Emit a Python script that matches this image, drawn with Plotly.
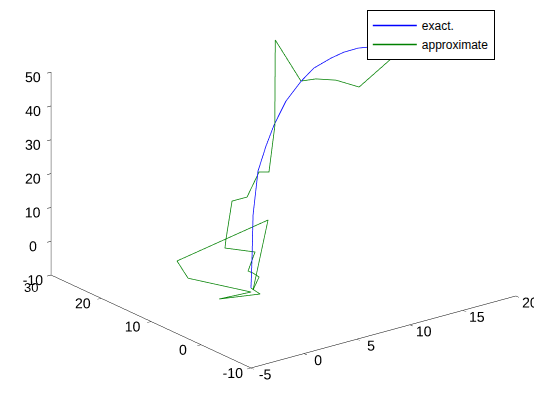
import plotly.graph_objects as go

# exact trajectory
exact_x = [0.04, 0.05, 0.42, 1.58, 3.1, 4.74, 7.45, 10.25, 12.26, 14.2, 15.5, 16.7, 17.3, 17.8, 17.75]
exact_y = [0.69, 0.50, 1.08, 2.55, 4.17, 6.05, 9.4, 12.3, 14.0, 14.7, 14.9, 14.6, 13.97, 12.35, 9.84]
exact_z = [2, 11, 23, 34, 39, 42.5, 45, 46.5, 47.5, 48.3, 48.8, 49.2, 49.4, 49.5, 49.5]

# approximate trajectory
approx_x = [0.04, 1.55, -0.67, 0.40, -0.28, -0.9, 4.14, 0.34, 1.07, 0.78, 0.31, 1.43, 0.15, 0.06,
            0.52, 1.06, 1.95, 2.54, 4.0, 12.9, 10.47, 12.07, 13.54, 14.9, 18.8, 19.6]
approx_y = [0.69, 2.07, 5.57, 1.44, 12.6, 13.5, 5.97, 0.92, 1.26, 1.87, 1.85, 2.83, 6.13, 5.73,
            5.5, 3.64, 3.13, 2.39, 4.32, 23.1, 12.8, 13.2, 12.3, 10.56, 11.8, 9.5]
approx_z = [2, -2, -4, 0, -3, 2, 15, 1, 4, 5, 6, 10, 10, 13,
            24, 26, 33, 33, 44, 49, 46, 45, 44, 42, 47, 47]

x_ticks = [-5, 0, 5, 10, 15, 20]
y_ticks = [-10, 0, 10, 20, 30]
z_ticks = [-10, 0, 10, 20, 30, 40, 50]

FONT = "Liberation Sans, Arial, sans-serif"

fig = go.Figure()
fig.add_trace(go.Scatter3d(x=exact_x, y=exact_y, z=exact_z, mode="lines",
                           line=dict(color="#0000ff", width=1.5), name="exact."))
fig.add_trace(go.Scatter3d(x=approx_x, y=approx_y, z=approx_z, mode="lines",
                           line=dict(color="#008000", width=1.5), name="approximate"))

def ax(rng, ticks, text=None):
    return dict(range=rng, tickvals=ticks,
                ticktext=text if text is not None else [str(t) for t in ticks],
                showgrid=False, zeroline=False, showbackground=False,
                showline=True, linecolor="black", linewidth=1,
                ticks="outside", ticklen=5, tickcolor="black",
                showspikes=False, title=dict(text=""), tickangle=0,
                tickfont=dict(family=FONT, size=13, color="black"),
                autorange=False)

# the y-axis "30" label collides with the z "-10" label; place it as an annotation below
y_text = [str(t) for t in y_ticks[:-1]] + [""]

k = 1.68
view = (-0.5678, -0.7426, 0.3554)   # az -37.4 deg, el 20.8 deg
ctr = (-0.018, 0.0138, -0.121)
dist = 1.5
fig.update_layout(
    width=542, height=397,
    margin=dict(l=0, r=0, t=0, b=0),
    paper_bgcolor="white",
    showlegend=True,
    legend=dict(x=0.662, y=0.995, xanchor="left", yanchor="top",
                bgcolor="white", bordercolor="black", borderwidth=1,
                font=dict(family=FONT, size=12, color="black"),
                itemwidth=44, tracegroupgap=0),
    scene=dict(
        domain=dict(x=[0, 1.0], y=[0, 1.0]),
        xaxis=ax([-5, 20], x_ticks),
        yaxis=ax([-10, 30], y_ticks, y_text),
        zaxis=ax([-10, 50], z_ticks),
        aspectmode="manual",
        aspectratio=dict(x=1 * k, y=0.987 * k, z=0.651 * k),
        camera=dict(eye=dict(x=ctr[0] + view[0] * dist, y=ctr[1] + view[1] * dist,
                             z=ctr[2] + view[2] * dist),
                    up=dict(x=0, y=0, z=1), center=dict(x=ctr[0], y=ctr[1], z=ctr[2]),
                    projection=dict(type="orthographic")),
        annotations=[dict(x=x_ticks[0], y=y_ticks[-1], z=z_ticks[0], text=str(y_ticks[-1]),
                          showarrow=False, xshift=-20, yshift=-12,
                          font=dict(family=FONT, size=13, color="black"))],
    ),
)
fig.write_html("out.html")
